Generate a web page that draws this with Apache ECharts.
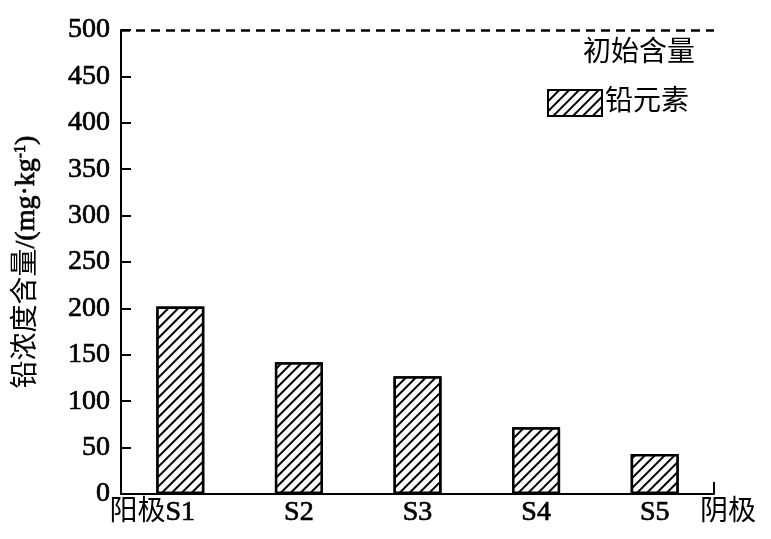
<!DOCTYPE html>
<html>
<head>
<meta charset="utf-8">
<script src="https://cdn.jsdelivr.net/npm/echarts@6/dist/echarts.min.js"></script>
<style>
  html, body { margin: 0; padding: 0; background: #fff; }
  #chart { width: 771px; height: 539px; }
</style>
</head>
<body>
<div id="chart"></div>
<script>
  // 数据
  var categories = ['S1', 'S2', 'S3', 'S4', 'S5'];
  var leadValues = [202, 142, 127, 72, 43];
  var initialContent = 500;
  var yMin = 0, yMax = 500, yStep = 50;

  var fontFamily = "'Liberation Serif', 'Times New Roman', 'Noto Sans CJK SC', serif";
  var fs = 28;
  var thick = { textBorderColor: '#000', textBorderWidth: 0.7 };

  var myChart = echarts.init(document.getElementById('chart'));

  var option = {
    backgroundColor: '#fff',
    animation: false,
    textStyle: { fontFamily: fontFamily, color: '#000' },
    grid: { left: 121, right: 57, top: 30, bottom: 45 },
    legend: {
      data: [{ name: '铅元素', icon: 'rect' }],
      right: 77,
      top: 84,
      itemWidth: 54,
      itemHeight: 26,
      itemGap: 4,
      textStyle: { fontSize: fs, color: '#000', fontFamily: fontFamily, padding: [0, 0, 0, -2] }
    },
    xAxis: {
      type: 'category',
      data: categories,
      name: '阴极',
      nameLocation: 'end',
      nameGap: -14,
      nameTextStyle: { fontSize: fs, color: '#000', fontFamily: fontFamily, verticalAlign: 'top', padding: [5, 0, 0, 0] },
      axisLine: { lineStyle: { color: '#000', width: 2 } },
      axisTick: { show: true, inside: true, alignWithLabel: true, length: 6, lineStyle: { color: '#000', width: 1.5 } },
      axisLabel: Object.assign({
        interval: 0,
        fontSize: fs,
        color: '#000',
        margin: 5,
        formatter: function (v, i) {
          return i === 0 ? '{p|阳极}' + v + '{q|}' : v;
        },
        rich: {
          p: { fontSize: fs, fontFamily: fontFamily, color: '#000', width: 56, textBorderWidth: 0 },
          q: { width: 56 }
        }
      }, thick)
    },
    yAxis: {
      type: 'value',
      min: yMin,
      max: yMax,
      interval: yStep,
      name: '{c|铅浓度含量}/(mg·kg{sup|-1})',
      nameLocation: 'middle',
      nameGap: 80,
      nameTextStyle: Object.assign({
        fontSize: fs,
        color: '#000',
        fontFamily: fontFamily,
        rich: {
          c: { fontSize: fs, fontFamily: fontFamily, color: '#000', textBorderWidth: 0 },
          sup: { fontSize: 16, fontFamily: fontFamily, color: '#000', padding: [0, 0, 12, 0] }
        }
      }, thick),
      axisLine: { show: true, lineStyle: { color: '#000', width: 2 } },
      axisTick: { show: true, inside: true, length: 10, lineStyle: { color: '#000', width: 2 } },
      axisLabel: Object.assign({ fontSize: fs, color: '#000', margin: 11 }, thick),
      splitLine: { show: false }
    },
    series: [
      {
        name: '铅元素',
        type: 'bar',
        data: leadValues,
        barWidth: 48,
        itemStyle: {
          color: '#fff',
          borderColor: '#000',
          borderWidth: 2.5,
          decal: {
            symbol: 'rect',
            color: '#000',
            backgroundColor: '#fff',
            dashArrayX: [1, 0],
            dashArrayY: [1.6, 5],
            rotation: -Math.PI / 4
          }
        },
        markLine: {
          silent: true,
          symbol: ['none', 'none'],
          lineStyle: { color: '#000', type: [9, 6], width: 2.5 },
          label: {
            show: true,
            position: 'insideEndBottom',
            formatter: '初始含量',
            fontSize: fs,
            color: '#000',
            fontFamily: fontFamily,
            distance: [19, 10]
          },
          data: [{ yAxis: initialContent }]
        }
      }
    ]
  };

  myChart.setOption(option);

  // 横轴右端的小竖刻度
  var rect = myChart.getModel().getComponent('grid').coordinateSystem.getRect();
  myChart.setOption({
    graphic: [{
      type: 'line',
      shape: { x1: rect.x + rect.width, y1: rect.y + rect.height, x2: rect.x + rect.width, y2: rect.y + rect.height - 12 },
      style: { stroke: '#000', lineWidth: 2 }
    }]
  });
</script>
</body>
</html>
